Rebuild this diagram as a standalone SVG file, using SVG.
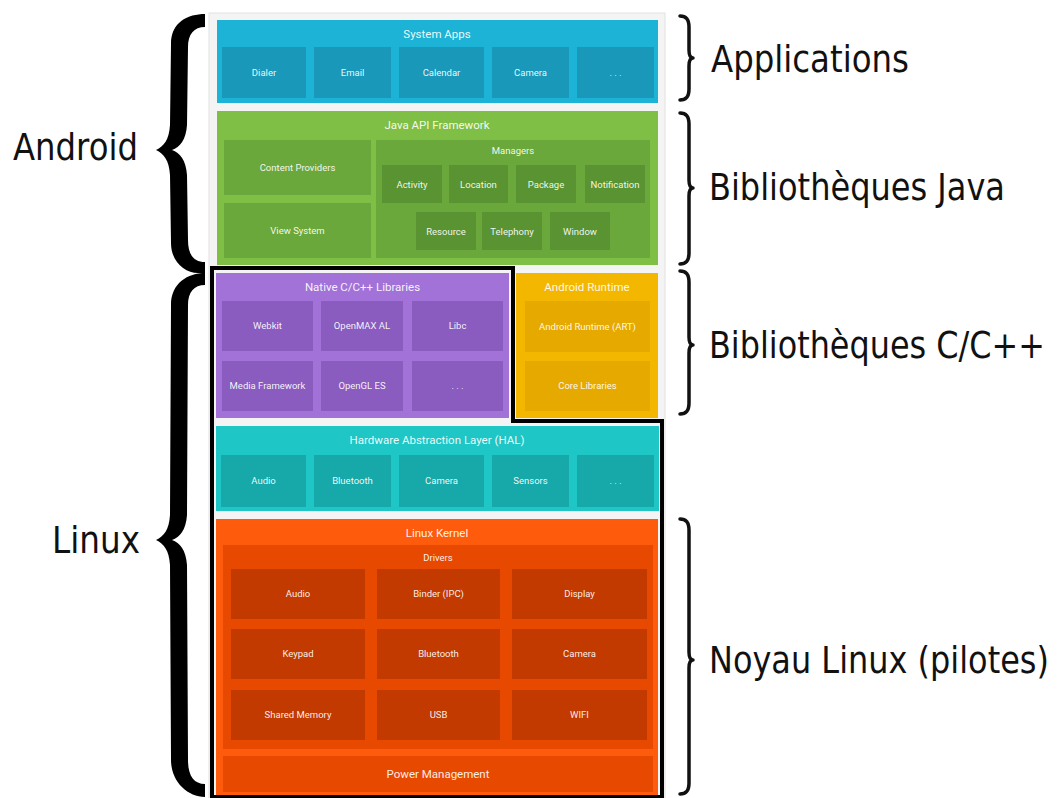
<svg xmlns="http://www.w3.org/2000/svg" width="1063" height="798" viewBox="0 0 1063 798">
<style>
.t{font-family:Roboto,"Liberation Sans",sans-serif;fill:#ffffff;text-anchor:middle;fill-opacity:0.92}
.tt{font-size:11.5px}
.tc{font-size:9.5px}
.big{font-family:"DejaVu Sans","Liberation Sans",sans-serif;font-size:37px;fill:#111}
.rb{fill:none;stroke:#111;stroke-width:3.5;stroke-linecap:round;stroke-linejoin:round}
.lb{fill:#000}
.sa{fill:#1cb3d6}.sac{fill:#1a98ba}
.ja{fill:#80bf46}.jab{fill:#6ba83b}.jac{fill:#5a9331}
.na{fill:#a272d8}.nac{fill:#8a5cc0}
.ar{fill:#f4b700}.arc{fill:#e6a900}
.ha{fill:#1fc6c6}.hac{fill:#17a8aa}
.lk{fill:#ff5b0c}.lkd{fill:#e84900}.lkc{fill:#c33a00}
</style>
<rect width="1063" height="798" fill="#ffffff"/>
<rect x="209" y="13" width="456" height="785" fill="#f4f4f4" stroke="#e2e2e2" stroke-width="1"/>

<g id="system-apps">
<rect class="sa" x="217" y="20" width="441" height="83"/>
<text class="t tt" x="437" y="38">System Apps</text>
<rect class="sac" x="222" y="47" width="84" height="51"/><text class="t tc" x="264" y="76">Dialer</text>
<rect class="sac" x="314" y="47" width="77" height="51"/><text class="t tc" x="352.5" y="76">Email</text>
<rect class="sac" x="399" y="47" width="85" height="51"/><text class="t tc" x="441.5" y="76">Calendar</text>
<rect class="sac" x="492" y="47" width="77" height="51"/><text class="t tc" x="530.5" y="76">Camera</text>
<rect class="sac" x="577" y="47" width="77" height="51"/><text class="t tc" x="615.5" y="76">. . .</text>
</g>

<g id="java-api">
<rect class="ja" x="217" y="111" width="441" height="154"/>
<text class="t tt" x="437" y="129">Java API Framework</text>
<rect class="jab" x="224" y="140" width="147" height="55"/><text class="t tc" x="297.5" y="171">Content Providers</text>
<rect class="jab" x="224" y="203" width="147" height="55"/><text class="t tc" x="297.5" y="234">View System</text>
<rect class="jab" x="376" y="140" width="274" height="118"/>
<text class="t tc" x="513" y="154">Managers</text>
<rect class="jac" x="382" y="165" width="60" height="38"/><text class="t tc" x="412" y="188">Activity</text>
<rect class="jac" x="449" y="165" width="59" height="38"/><text class="t tc" x="478.5" y="188">Location</text>
<rect class="jac" x="516" y="165" width="60" height="38"/><text class="t tc" x="546" y="188">Package</text>
<rect class="jac" x="585" y="165" width="60" height="38"/><text class="t tc" x="615" y="188">Notification</text>
<rect class="jac" x="416" y="212" width="60" height="38"/><text class="t tc" x="446" y="235">Resource</text>
<rect class="jac" x="482" y="212" width="60" height="38"/><text class="t tc" x="512" y="235">Telephony</text>
<rect class="jac" x="550" y="212" width="60" height="38"/><text class="t tc" x="580" y="235">Window</text>
</g>

<g id="native-libs">
<rect class="na" x="216" y="273" width="293" height="145"/>
<text class="t tt" x="362.5" y="291">Native C/C++ Libraries</text>
<rect class="nac" x="222" y="301" width="91" height="50"/><text class="t tc" x="267.5" y="329">Webkit</text>
<rect class="nac" x="321" y="301" width="82" height="50"/><text class="t tc" x="362" y="329">OpenMAX AL</text>
<rect class="nac" x="412" y="301" width="91" height="50"/><text class="t tc" x="457.5" y="329">Libc</text>
<rect class="nac" x="222" y="361" width="91" height="50"/><text class="t tc" x="267.5" y="389">Media Framework</text>
<rect class="nac" x="321" y="361" width="82" height="50"/><text class="t tc" x="362" y="389">OpenGL ES</text>
<rect class="nac" x="412" y="361" width="91" height="50"/><text class="t tc" x="457.5" y="389">. . .</text>
</g>

<g id="android-runtime">
<rect class="ar" x="516" y="273" width="142" height="145"/>
<text class="t tt" x="587" y="291">Android Runtime</text>
<rect class="arc" x="525" y="301" width="125" height="51"/><text class="t tc" x="587.5" y="330">Android Runtime (ART)</text>
<rect class="arc" x="525" y="361" width="125" height="50"/><text class="t tc" x="587.5" y="389">Core Libraries</text>
</g>

<g id="hal">
<rect class="ha" x="216" y="426" width="443" height="85"/>
<text class="t tt" x="437" y="444">Hardware Abstraction Layer (HAL)</text>
<rect class="hac" x="221" y="455" width="85" height="52"/><text class="t tc" x="263.5" y="484">Audio</text>
<rect class="hac" x="314" y="455" width="77" height="52"/><text class="t tc" x="352.5" y="484">Bluetooth</text>
<rect class="hac" x="399" y="455" width="85" height="52"/><text class="t tc" x="441.5" y="484">Camera</text>
<rect class="hac" x="492" y="455" width="77" height="52"/><text class="t tc" x="530.5" y="484">Sensors</text>
<rect class="hac" x="577" y="455" width="77" height="52"/><text class="t tc" x="615.5" y="484">. . .</text>
</g>

<g id="linux-kernel">
<rect class="lk" x="216" y="519" width="442" height="277"/>
<text class="t tt" x="437" y="537">Linux Kernel</text>
<rect class="lkd" x="223" y="545" width="430" height="204"/>
<text class="t tc" x="438" y="561">Drivers</text>
<rect class="lkc" x="231" y="569" width="134" height="50"/><text class="t tc" x="298" y="597">Audio</text>
<rect class="lkc" x="377" y="569" width="123" height="50"/><text class="t tc" x="438.5" y="597">Binder (IPC)</text>
<rect class="lkc" x="512" y="569" width="135" height="50"/><text class="t tc" x="579.5" y="597">Display</text>
<rect class="lkc" x="231" y="629" width="134" height="50"/><text class="t tc" x="298" y="657">Keypad</text>
<rect class="lkc" x="377" y="629" width="123" height="50"/><text class="t tc" x="438.5" y="657">Bluetooth</text>
<rect class="lkc" x="512" y="629" width="135" height="50"/><text class="t tc" x="579.5" y="657">Camera</text>
<rect class="lkc" x="231" y="690" width="134" height="50"/><text class="t tc" x="298" y="718">Shared Memory</text>
<rect class="lkc" x="377" y="690" width="123" height="50"/><text class="t tc" x="438.5" y="718">USB</text>
<rect class="lkc" x="512" y="690" width="135" height="50"/><text class="t tc" x="579.5" y="718">WIFI</text>
<rect class="lkd" x="223" y="756" width="430" height="36"/>
<text class="t tt" x="438" y="778">Power Management</text>
</g>

<g id="connectors">
<path d="M212,797 V268 H513 V421 H662 V797 Z" fill="none" stroke="#000" stroke-width="4"/>
<path class="lb" d="M205,14 C188,14 171,22 171,44 L170,125 C169,140 164,146 156,150 C164,154 169,160 170,175 L171,243 C171,262 185,273 198,273 L205,273 L205,262 C194,262 188,255 188,240 L187,175 C186,160 180,153 172,150 C180,147 186,140 187,125 L188,47 C188,34 194,27 205,27 Z"/>
<path class="lb" d="M205,273 C188,273 171,283 171,305 L170,515 C169,530 164,536 156,540 C164,544 169,550 170,565 L171,760 C171,782 188,797 205,797 L205,784 C194,784 188,776 188,760 L187,565 C186,550 180,543 172,540 C180,537 186,530 187,515 L188,305 C188,292 194,285 205,285 Z"/>
<path class="rb" d="M680,16 C686,16 689,19 689,27 L689,50 C689,55 690,58 693,58 C690,58 689,61 689,66 L689,89 C689,97 686,100 680,100"/>
<path class="rb" d="M680,113 C686,113 689,116 689,124 L689,180 C689,185 690,188 693,188 C690,188 689,191 689,196 L689,253 C689,261 686,264 680,264"/>
<path class="rb" d="M680,271 C686,271 689,274 689,282 L689,337 C689,342 690,345 693,345 C690,345 689,348 689,353 L689,403 C689,411 686,414 680,414"/>
<path class="rb" d="M680,519 C686,519 689,522 689,530 L689,652 C689,657 690,660 693,660 C690,660 689,663 689,668 L689,783 C689,791 686,794 680,794"/>
</g>

<g id="labels" transform="scale(0.86,1)">
<text class="big" x="15.1" y="160" textLength="145.3" lengthAdjust="spacingAndGlyphs">Android</text>
<text class="big" x="60.5" y="553" textLength="102.3" lengthAdjust="spacingAndGlyphs">Linux</text>
<text class="big" x="826.7" y="72" textLength="230.2" lengthAdjust="spacingAndGlyphs">Applications</text>
<text class="big" x="824.4" y="200" textLength="344.2" lengthAdjust="spacingAndGlyphs">Bibliothèques Java</text>
<text class="big" x="824.4" y="358" textLength="390.7" lengthAdjust="spacingAndGlyphs">Bibliothèques C/C++</text>
<text class="big" x="824.4" y="673" textLength="395.3" lengthAdjust="spacingAndGlyphs">Noyau Linux (pilotes)</text>
</g>
</svg>
